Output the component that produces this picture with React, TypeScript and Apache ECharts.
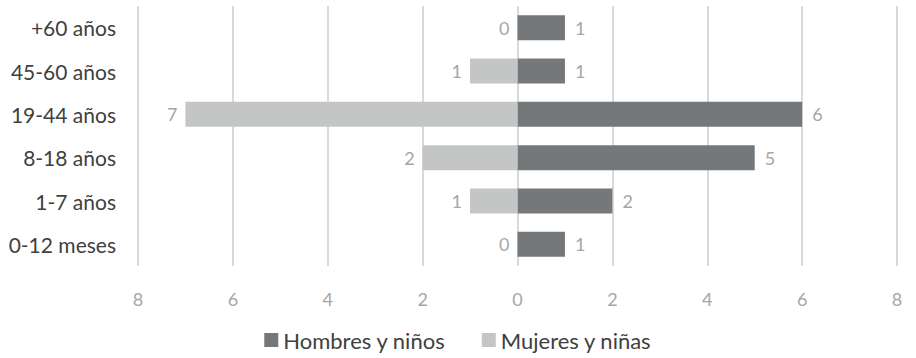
import React, { useEffect, useRef } from "react";
import * as echarts from "echarts";

const categories = ["+60 años", "45-60 años", "19-44 años", "8-18 años", "1-7 años", "0-12 meses"];
const hombres = [1, 1, 6, 5, 2, 1];
const mujeres = [0, 1, 7, 2, 1, 0];
const tickValues = [-8, -6, -4, -2, 0, 2, 4, 6, 8];

const FONT = "Lato";

export default function App() {
  const ref = useRef<HTMLDivElement>(null);
  useEffect(() => {
    document.body.style.margin = "0";
    const chart = echarts.init(ref.current!, null, { renderer: "svg" });
    chart.setOption({
      animation: false,
      textStyle: { fontFamily: FONT },
      grid: { left: 138, right: 19, top: 6, height: 260, containLabel: false },
      legend: {
        top: 329,
        left: "center",
        padding: 0,
        itemWidth: 14,
        itemHeight: 14,
        itemGap: 36,
        icon: "rect",
        textStyle: { fontSize: 22, color: "#404040", fontFamily: FONT },
        data: ["Hombres y niños", "Mujeres y niñas"],
      },
      xAxis: {
        type: "value",
        min: tickValues[0],
        max: tickValues[tickValues.length - 1],
        interval: 2,
        axisLine: { show: false },
        axisTick: { show: false },
        splitLine: { show: true, lineStyle: { color: "#d9d9d9", width: 2 } },
        axisLabel: {
          color: "#a6a6a6",
          fontSize: 18,
          margin: 24,
          formatter: (v: number) => String(Math.abs(v)),
        },
      },
      yAxis: {
        type: "category",
        inverse: true,
        data: categories,
        axisLine: { show: false },
        axisTick: { show: false },
        axisLabel: { color: "#404040", fontSize: 21, margin: 22 },
      },
      series: [
        {
          name: "Hombres y niños",
          type: "bar",
          data: hombres,
          barWidth: 25,
          barGap: "-100%",
          itemStyle: { color: "#75787b" },
          label: {
            show: true,
            position: "right",
            distance: 10,
            color: "#a6a6a6",
            fontSize: 18,
          },
        },
        {
          name: "Mujeres y niñas",
          type: "bar",
          data: mujeres.map((v) => -v),
          barWidth: 25,
          barGap: "-100%",
          itemStyle: { color: "#c4c5c5" },
          label: {
            show: true,
            position: "left",
            distance: 8,
            color: "#a6a6a6",
            fontSize: 18,
            formatter: (p: any) => String(Math.abs(p.value)),
          },
        },
      ],
    });
    return () => chart.dispose();
  }, []);
  return <div ref={ref} style={{ position: "absolute", left: 0, top: 0, width: 916, height: 358 }} />;
}
